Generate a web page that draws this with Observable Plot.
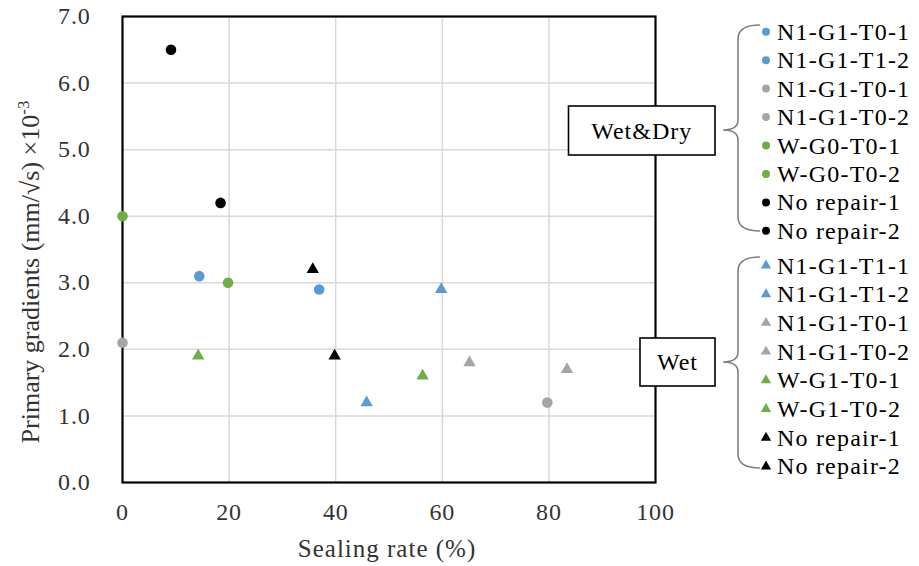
<!DOCTYPE html>
<html><head><meta charset="utf-8">
<script src="https://cdn.jsdelivr.net/npm/d3@7"></script>
<script src="https://cdn.jsdelivr.net/npm/@observablehq/plot@0.6"></script>
<style>
body{margin:0;background:#fff;}
#chart svg{display:block;}
</style></head><body><div id="chart"></div>
<script>
// ---- data ----
const wdLabels = ["N1-G1-T0-1","N1-G1-T1-2","N1-G1-T0-1","N1-G1-T0-2","W-G0-T0-1","W-G0-T0-2","No repair-1","No repair-2"];
const wdSeal   = [14.4, 36.9, 0, 79.7, 0, 19.8, 9.1, 18.4];
const wdGrad   = [3.1, 2.9, 2.1, 1.2, 4.0, 3.0, 6.5, 4.2];
const wetLabels = ["N1-G1-T1-1","N1-G1-T1-2","N1-G1-T0-1","N1-G1-T0-2","W-G1-T0-1","W-G1-T0-2","No repair-1","No repair-2"];
const wetSeal   = [45.8, 59.8, 65.1, 83.4, 14.2, 56.3, 35.7, 39.8];
const wetGrad   = [1.2, 2.9, 1.8, 1.7, 1.9, 1.6, 3.2, 1.9];
const seriesColors = ["#5b9bd5","#5b9bd5","#a5a5a5","#a5a5a5","#70ad47","#70ad47","#000000","#000000"];
const groupNames = ["Wet&Dry","Wet"];
const xTicks = [0,20,40,60,80,100];
const yTicks = [0,1,2,3,4,5,6,7];
const xTitle = "Sealing rate (%)";

const wd = wdLabels.map((l,i)=>({group:groupNames[0], label:l, x:wdSeal[i], y:wdGrad[i], color:seriesColors[i]}));
const wet = wetLabels.map((l,i)=>({group:groupNames[1], label:l, x:wetSeal[i], y:wetGrad[i], color:seriesColors[i]}));

const FONT = "'Liberation Serif','Times New Roman',serif";

const plot = Plot.plot({
  width: 919, height: 566,
  marginLeft: 122, marginRight: 264, marginTop: 16, marginBottom: 84,
  x: {domain: [0,100]},
  y: {domain: [0,7]},
  color: {type: "identity"},
  style: {fontFamily: FONT, fontSize: "24px", color: "#333", background: "#fff", overflow: "visible"},
  marks: [
    Plot.gridX(xTicks.filter(d => d > 0 && d < 100), {stroke: "#d9d9d9", strokeOpacity: 1, strokeWidth: 1.5}),
    Plot.gridY(yTicks.filter(d => d > 0 && d < 7), {stroke: "#d9d9d9", strokeOpacity: 1, strokeWidth: 1.5}),
    Plot.frame({stroke: "#000", strokeWidth: 2.2}),
    Plot.axisX(xTicks, {tickSize: 0, tickPadding: 20, label: null, tickFormat: d => String(d), fontSize: 24}),
    Plot.axisY(yTicks, {tickSize: 0, tickPadding: 32, label: null, tickFormat: d3.format(".1f"), fontSize: 24}),
    Plot.dot(wd, {x: "x", y: "y", r: 5.3, fill: "color", symbol: "circle"}),
    Plot.dot(wet, {x: "x", y: "y", r: 4.6, fill: "color", symbol: "triangle"})
  ]
});
document.getElementById("chart").appendChild(plot);

// ---- decorations: titles and bracketed legend ----
const svg = d3.select(plot);
svg.selectAll("g[aria-label='x-axis tick label'] text, g[aria-label='y-axis tick label'] text")
  .attr("letter-spacing", "0.8px");

svg.append("text")
  .attr("x", 387).attr("y", 557)
  .attr("text-anchor", "middle")
  .attr("font-family", FONT).attr("font-size", 25).attr("letter-spacing", "1px")
  .attr("fill", "#333")
  .text(xTitle);

const yl = svg.append("text")
  .attr("transform", "translate(39,272) rotate(-90)")
  .attr("text-anchor", "middle")
  .attr("font-family", FONT).attr("font-size", 26)
  .attr("fill", "#333");
yl.append("tspan").text("Primary gradients (mm/√s) ×10");
yl.append("tspan").attr("dy", -10).attr("font-size", 17).text("-3");

function brace(top, tip, bottom) {
  const xv = 738, xr = 760, xt = 723;
  return `M${xr},${top} Q${xv},${top} ${xv},${top+14} L${xv},${tip-10} Q${xv},${tip} ${xt},${tip} Q${xv},${tip} ${xv},${tip+10} L${xv},${bottom-14} Q${xv},${bottom} ${xr},${bottom}`;
}
const groups = [
  {name: groupNames[0], items: wd, symbol: d3.symbolCircle, size: 50, top: 25, tip: 130, bottom: 231, row0: 31.7, step: 28.45,
   box: {x: 568.5, y: 106, w: 146.5, h: 49}},
  {name: groupNames[1], items: wet, symbol: d3.symbolTriangle, size: 46, top: 257, tip: 362, bottom: 468, row0: 265.5, step: 28.7,
   box: {x: 640, y: 338, w: 75, h: 48}}
];
for (const g of groups) {
  const lg = svg.append("g").attr("text-anchor", "start");
  lg.append("path").attr("d", brace(g.top, g.tip, g.bottom))
    .attr("fill", "none").attr("stroke", "#808080").attr("stroke-width", 1.6);
  lg.append("rect").attr("x", g.box.x).attr("y", g.box.y).attr("width", g.box.w).attr("height", g.box.h)
    .attr("fill", "#fff").attr("stroke", "#000").attr("stroke-width", 1.6);
  lg.append("text").attr("x", g.box.x + g.box.w/2).attr("y", g.box.y + g.box.h/2 + 8)
    .attr("text-anchor", "middle").attr("font-family", FONT).attr("font-size", 24).attr("letter-spacing", "1px")
    .attr("fill", "#000").text(g.name);
  g.items.forEach((d, i) => {
    const cy = g.row0 + i * g.step;
    lg.append("path").attr("d", d3.symbol(g.symbol, g.size)())
      .attr("transform", `translate(766,${cy})`).attr("fill", d.color);
    lg.append("text").attr("x", 777).attr("y", cy + 8).attr("text-anchor", "start")
      .attr("font-family", FONT).attr("font-size", 24).attr("letter-spacing", "1.2px")
      .attr("fill", "#000").text(d.label);
  });
}
</script></body></html>
